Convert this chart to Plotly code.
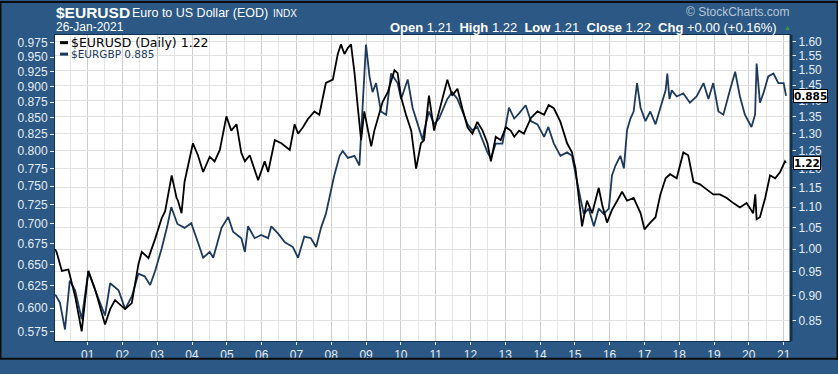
import math
import plotly.graph_objects as go

# ---------------- data ----------------
usd_dates = [
    "2000-01-24", "2000-02-09", "2000-04-05", "2000-06-13", "2000-08-22", "2000-10-30",
    "2001-01-08", "2001-03-21", "2001-07-02", "2001-08-25", "2001-10-15", "2002-01-29",
    "2002-04-09", "2002-06-17", "2002-07-23", "2002-10-01", "2002-12-09", "2003-02-16",
    "2003-03-25", "2003-06-02", "2003-07-23", "2003-08-07", "2003-09-13", "2003-10-15",
    "2004-01-11", "2004-03-03", "2004-04-27", "2004-07-05", "2004-08-25", "2004-10-19",
    "2004-12-27", "2005-02-16", "2005-04-12", "2005-06-02", "2005-07-09", "2005-08-29",
    "2005-11-25", "2006-02-02", "2006-03-10", "2006-05-19", "2006-07-27", "2006-10-23",
    "2006-12-13", "2007-01-18", "2007-03-10", "2007-04-30", "2007-07-09", "2007-08-29",
    "2007-11-06", "2008-01-18", "2008-03-10", "2008-04-12", "2008-05-19", "2008-06-24",
    "2008-07-27", "2008-09-02", "2008-10-04", "2008-11-10", "2008-12-13", "2009-01-18",
    "2009-02-24", "2009-03-29", "2009-05-04", "2009-06-24", "2009-08-18", "2009-10-26",
    "2009-11-28", "2010-01-04", "2010-02-24", "2010-04-20", "2010-06-10", "2010-07-31",
    "2010-09-02", "2010-10-23", "2010-12-16", "2011-02-06", "2011-05-04", "2011-06-24",
    "2011-08-18", "2011-10-08", "2011-12-02", "2012-01-22", "2012-03-14", "2012-05-08",
    "2012-06-28", "2012-08-03", "2012-09-23", "2012-11-14", "2013-01-08", "2013-02-27",
    "2013-04-05", "2013-05-26", "2013-07-16", "2013-09-27", "2013-12-05", "2014-02-13",
    "2014-04-01", "2014-05-26", "2014-08-03", "2014-10-12", "2014-12-02", "2015-01-08",
    "2015-02-09", "2015-03-18", "2015-05-08", "2015-07-02", "2015-09-09", "2015-10-15",
    "2015-12-05", "2016-01-26", "2016-03-21", "2016-05-11", "2016-07-02", "2016-09-09",
    "2016-11-21", "2017-01-01", "2017-03-03", "2017-04-27", "2017-06-17", "2017-08-11",
    "2017-09-27", "2017-12-05", "2018-02-13", "2018-04-05", "2018-05-30", "2018-08-07",
    "2018-10-15", "2018-12-24", "2019-03-03", "2019-05-15", "2019-07-23", "2019-09-30",
    "2019-12-09", "2020-02-16", "2020-03-09", "2020-03-23", "2020-04-27", "2020-06-21",
    "2020-08-11", "2020-10-04", "2020-11-25", "2021-01-15", "2021-01-26",
]
usd_vals = [
    1.000, 0.994, 0.952, 0.955, 0.899, 0.830,
    0.952, 0.912, 0.843, 0.873, 0.891, 0.873,
    0.885, 0.966, 0.994, 0.980, 1.023, 1.072,
    1.090, 1.182, 1.123, 1.116, 1.085, 1.165,
    1.271, 1.237, 1.191, 1.233, 1.220, 1.252,
    1.351, 1.308, 1.327, 1.243, 1.220, 1.237,
    1.169, 1.220, 1.191, 1.280, 1.271, 1.252,
    1.327, 1.299, 1.318, 1.342, 1.366, 1.356,
    1.457, 1.468, 1.556, 1.590, 1.556, 1.578,
    1.590, 1.490, 1.386, 1.280, 1.366, 1.308,
    1.262, 1.308, 1.346, 1.396, 1.428, 1.500,
    1.490, 1.410, 1.356, 1.308, 1.200, 1.271,
    1.280, 1.416, 1.308, 1.366, 1.468, 1.416,
    1.438, 1.376, 1.318, 1.299, 1.334, 1.308,
    1.271, 1.220, 1.290, 1.280, 1.318, 1.308,
    1.290, 1.308, 1.299, 1.346, 1.366, 1.356,
    1.386, 1.376, 1.334, 1.271, 1.245, 1.200,
    1.132, 1.053, 1.116, 1.085, 1.149, 1.106,
    1.062, 1.093, 1.116, 1.139, 1.116, 1.123,
    1.085, 1.046, 1.062, 1.075, 1.132, 1.174,
    1.185, 1.174, 1.245, 1.237, 1.165, 1.158,
    1.145, 1.132, 1.132, 1.123, 1.110, 1.099,
    1.110, 1.085, 1.132, 1.070, 1.075, 1.123,
    1.182, 1.174, 1.191, 1.220, 1.216,
]

gbp_dates = [
    "2000-01-24", "2000-02-09", "2000-03-16", "2000-05-08", "2000-06-27", "2000-08-22",
    "2000-10-30", "2001-01-08", "2001-03-21", "2001-07-02", "2001-08-25", "2001-11-21",
    "2002-01-29", "2002-04-09", "2002-06-17", "2002-08-22", "2002-10-19", "2002-12-09",
    "2003-02-16", "2003-04-16", "2003-05-28", "2003-08-01", "2003-10-15", "2003-12-24",
    "2004-03-03", "2004-04-27", "2004-07-05", "2004-08-11", "2004-11-06", "2005-01-15",
    "2005-03-07", "2005-06-02", "2005-07-09", "2005-08-11", "2005-10-19", "2005-12-27",
    "2006-03-10", "2006-04-12", "2006-06-21", "2006-09-02", "2006-11-25", "2007-01-18",
    "2007-03-25", "2007-06-02", "2007-07-27", "2007-09-16", "2007-11-06", "2007-12-24",
    "2008-02-02", "2008-03-29", "2008-05-01", "2008-06-24", "2008-09-02", "2008-10-23",
    "2008-11-28", "2008-12-31", "2009-02-06", "2009-03-10", "2009-04-16", "2009-06-06",
    "2009-07-31", "2009-09-20", "2009-11-28", "2010-01-04", "2010-03-14", "2010-05-04",
    "2010-06-28", "2010-08-18", "2010-09-02", "2010-10-23", "2010-12-16", "2011-02-06",
    "2011-05-04", "2011-06-24", "2011-08-18", "2011-10-08", "2011-12-02", "2012-01-22",
    "2012-03-14", "2012-05-08", "2012-06-28", "2012-08-03", "2012-09-23", "2012-12-02",
    "2013-02-09", "2013-04-05", "2013-05-26", "2013-08-03", "2013-09-27", "2013-12-05",
    "2014-02-13", "2014-03-29", "2014-05-26", "2014-08-03", "2014-10-12", "2014-12-02",
    "2015-01-08", "2015-02-27", "2015-04-05", "2015-05-26", "2015-07-20", "2015-09-09",
    "2015-10-30", "2015-12-24", "2016-01-26", "2016-03-03", "2016-04-23", "2016-05-30",
    "2016-07-02", "2016-08-07", "2016-09-09", "2016-10-15", "2016-11-21", "2017-01-11",
    "2017-03-03", "2017-04-27", "2017-06-17", "2017-08-11", "2017-08-29", "2017-09-20",
    "2017-10-15", "2017-12-05", "2018-02-13", "2018-04-23", "2018-07-02", "2018-09-13",
    "2018-11-03", "2018-12-24", "2019-02-16", "2019-04-09", "2019-06-17", "2019-08-11",
    "2019-09-30", "2019-11-21", "2020-01-29", "2020-03-07", "2020-03-23", "2020-04-27",
    "2020-06-02", "2020-07-23", "2020-09-16", "2020-11-06", "2021-01-01", "2021-01-26",
]
gbp_vals = [
    0.615, 0.613, 0.606, 0.577, 0.631, 0.620,
    0.588, 0.642, 0.620, 0.592, 0.628, 0.620,
    0.599, 0.613, 0.639, 0.636, 0.626, 0.642,
    0.669, 0.697, 0.722, 0.700, 0.695, 0.701,
    0.677, 0.658, 0.665, 0.658, 0.695, 0.709,
    0.690, 0.682, 0.665, 0.697, 0.682, 0.686,
    0.682, 0.697, 0.688, 0.677, 0.671, 0.658,
    0.684, 0.682, 0.671, 0.695, 0.713, 0.743,
    0.765, 0.793, 0.800, 0.790, 0.793, 0.779,
    0.880, 0.972, 0.917, 0.891, 0.906, 0.860,
    0.855, 0.922, 0.906, 0.880, 0.912, 0.866,
    0.840, 0.816, 0.830, 0.860, 0.840, 0.849,
    0.880, 0.891, 0.880, 0.860, 0.840, 0.831,
    0.836, 0.816, 0.798, 0.789, 0.811, 0.811,
    0.866, 0.849, 0.857, 0.870, 0.845, 0.840,
    0.821, 0.836, 0.811, 0.793, 0.798, 0.793,
    0.766, 0.735, 0.713, 0.720, 0.697, 0.720,
    0.713, 0.720, 0.765, 0.779, 0.793, 0.775,
    0.831, 0.849, 0.860, 0.906, 0.866, 0.845,
    0.860, 0.840, 0.866, 0.894, 0.922, 0.880,
    0.894, 0.884, 0.889, 0.874, 0.884, 0.906,
    0.880, 0.906, 0.860, 0.855, 0.894, 0.925,
    0.884, 0.855, 0.836, 0.855, 0.939, 0.874,
    0.889, 0.917, 0.922, 0.906, 0.906, 0.885,
]

gbp_ticks = [0.575, 0.600, 0.625, 0.650, 0.675, 0.700, 0.725, 0.750, 0.775,
             0.800, 0.825, 0.850, 0.875, 0.900, 0.925, 0.950, 0.975]
usd_ticks = [0.85, 0.90, 0.95, 1.00, 1.05, 1.10, 1.15, 1.20, 1.25,
             1.30, 1.35, 1.40, 1.45, 1.50, 1.55, 1.60]

title_sym = "$EURUSD"
title_name = "Euro to US Dollar (EOD)"
title_exch = "INDX"
chart_date = "26-Jan-2021"
quote_text = ("<b>Open</b> 1.21  <b>High</b> 1.22  <b>Low</b> 1.21  "
              "<b>Close</b> 1.22  <b>Chg</b> +0.00 (+0.16%)")
usd_legend = "$EURUSD (Daily) 1.22"
gbp_legend = "$EURGBP 0.885"

# ---------------- style / layout ----------------
W, H = 838, 374
PL, PR, PT, PB = 55, 791, 35, 355
BG = "#2b5885"
LIGHT = "#e4ecf4"
NAVY = "#1d3a5c"
SANS = "Liberation Sans, Arial, sans-serif"


def px(x):
    return (x - PL) / (PR - PL)


def py(y):
    return (PB - y) / (PB - PT)


fig = go.Figure()
fig.add_trace(go.Scatter(x=gbp_dates, y=gbp_vals, mode="lines", yaxis="y",
                         line=dict(color=NAVY, width=1.8), showlegend=False,
                         hoverinfo="skip"))
fig.add_trace(go.Scatter(x=usd_dates, y=usd_vals, mode="lines", yaxis="y2",
                         line=dict(color="#000000", width=1.8), showlegend=False,
                         hoverinfo="skip"))

annotations = [
    dict(text="<b>" + title_sym + "</b>", x=px(54), y=py(11), xanchor="left",
         yanchor="middle", font=dict(family=SANS, size=15.5, color="white")),
    dict(text=title_name, x=px(130), y=py(12), xanchor="left", yanchor="middle",
         font=dict(family=SANS, size=12.5, color="white")),
    dict(text=title_exch, x=px(271), y=py(13), xanchor="left", yanchor="middle",
         font=dict(family=SANS, size=10, color="white")),
    dict(text=chart_date, x=px(54), y=py(27), xanchor="left", yanchor="middle",
         font=dict(family=SANS, size=12, color="white")),
    dict(text=quote_text, x=px(779), y=py(27), xanchor="right", yanchor="middle",
         font=dict(family=SANS, size=13, color="white")),
    dict(text="▲", x=px(782), y=py(27), xanchor="left", yanchor="middle",
         font=dict(family=SANS, size=7, color="#3c9a3c")),
    dict(text="© StockCharts.com", x=px(792), y=py(11), xanchor="right",
         yanchor="middle", font=dict(family=SANS, size=12, color="#b9c7d6")),
    dict(text=usd_legend, x=px(69), y=py(42.5), xanchor="left", yanchor="middle",
         font=dict(family="DejaVu Sans", size=12.5, color="#000000")),
    dict(text=gbp_legend, x=px(69), y=py(55), xanchor="left", yanchor="middle",
         font=dict(family="DejaVu Sans", size=10.5, color=NAVY)),
    # last-value tags on the right
    dict(text="<b>%.3f</b>" % gbp_vals[-1], x=1, xref="paper", yref="y",
         y=math.log10(gbp_vals[-1]), xanchor="left", yanchor="middle", xshift=2,
         bgcolor="white", bordercolor="#000", borderwidth=1, borderpad=0,
         font=dict(family="DejaVu Sans", size=10.5, color="#000")),
    dict(text="<b>%.2f</b>" % usd_vals[-1], x=1, xref="paper", yref="y2",
         y=math.log10(usd_vals[-1]), xanchor="left", yanchor="middle", xshift=2,
         bgcolor="white", bordercolor="#000", borderwidth=1, borderpad=0,
         font=dict(family="DejaVu Sans", size=10.5, color="#000")),
]
for a in annotations:
    a.setdefault("xref", "paper")
    a.setdefault("yref", "paper")
    a.setdefault("showarrow", False)

shapes = [
    # legend background
    dict(type="rect", xref="paper", yref="paper", x0=px(56), x1=px(222),
         y0=py(61), y1=py(36), fillcolor="white", line=dict(width=0), layer="between"),
    # legend line markers
    dict(type="line", xref="paper", yref="paper", x0=px(60), x1=px(68),
         y0=py(43), y1=py(43), line=dict(color="#000", width=3)),
    dict(type="line", xref="paper", yref="paper", x0=px(60), x1=px(68),
         y0=py(55), y1=py(55), line=dict(color=NAVY, width=3)),
    # thick right border of the plot
    dict(type="line", xref="paper", yref="paper", x0=1, x1=1, y0=0, y1=1,
         line=dict(color="#12304f", width=3)),
    # outer frame of the image
    dict(type="rect", xref="paper", yref="paper", x0=px(0.5), x1=px(W - 0.5),
         y0=py(H - 0.5), y1=py(0.5), line=dict(color="#0c0c0c", width=2)),
]

fig.update_layout(
    width=W, height=H, autosize=False,
    margin=dict(l=PL, r=W - PR, t=PT, b=H - PB, pad=0),
    paper_bgcolor=BG, plot_bgcolor="white",
    showlegend=False,
    annotations=annotations, shapes=shapes,
    xaxis=dict(
        type="date", range=["2000-01-24", "2021-03-19"],
        tick0="2001-01-01", dtick="M12", tickformat="%y",
        showgrid=True, gridcolor="#cdcdcd", gridwidth=1,
        minor=dict(dtick="M6", tick0="2000-07-01", showgrid=True,
                   gridcolor="#e6e6e6", gridwidth=1),
        ticks="outside", ticklen=3, tickcolor=LIGHT,
        tickfont=dict(family=SANS, size=12, color=LIGHT),
        showline=True, linecolor="#12304f", linewidth=1, mirror=True,
        zeroline=False, fixedrange=True,
    ),
    yaxis=dict(
        type="log", range=[math.log10(0.5650), math.log10(0.9893)],
        tickvals=gbp_ticks, ticktext=["%.3f" % v for v in gbp_ticks],
        showgrid=False, zeroline=False,
        ticks="outside", ticklen=4, tickcolor=LIGHT,
        tickfont=dict(family=SANS, size=12, color=LIGHT),
        showline=True, linecolor="#12304f", linewidth=1,
    ),
    yaxis2=dict(
        type="log", range=[math.log10(0.8122), math.log10(1.6243)],
        overlaying="y", side="right",
        tickvals=usd_ticks, ticktext=["%.2f" % v for v in usd_ticks],
        showgrid=True, gridcolor="#e2e2e2", gridwidth=1, zeroline=False,
        ticks="outside", ticklen=4, tickcolor=LIGHT,
        tickfont=dict(family=SANS, size=12, color=LIGHT),
    ),
)

fig.write_html(
    "out.html",
    config={"displayModeBar": False, "staticPlot": True},
    post_script="document.body.style.margin='0';document.body.style.overflow='hidden';",
)
